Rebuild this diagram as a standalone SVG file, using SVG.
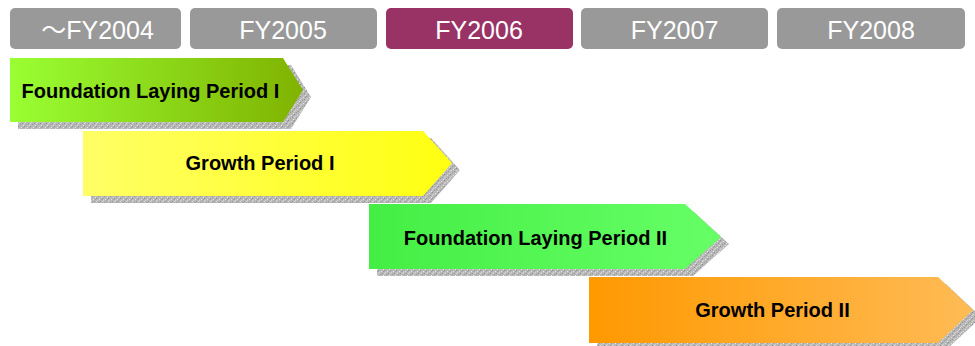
<svg xmlns="http://www.w3.org/2000/svg" width="975" height="346" viewBox="0 0 975 346">
<defs>
<style>
.hdr{fill:#999999}
.hdr-on{fill:#993366}
.ht{font-family:"Liberation Sans",Arial,"Noto Sans CJK JP",sans-serif;font-size:25px;fill:#ffffff;text-anchor:middle}
.lbl{font-family:"Liberation Sans",Arial,sans-serif;font-size:20px;font-weight:bold;fill:#000000;text-anchor:middle}
.shadow{fill:url(#speck)}
</style>
<pattern id="speck" width="6" height="6" patternUnits="userSpaceOnUse">
<rect width="6" height="6" fill="#b8b8b8"/>
<rect x="0" y="0" width="1" height="1" fill="#8a8a8a"/>
<rect x="3" y="1" width="1" height="1" fill="#e4e4e4"/>
<rect x="1" y="2" width="1" height="1" fill="#d4d4d4"/>
<rect x="4" y="3" width="1" height="1" fill="#909090"/>
<rect x="2" y="4" width="1" height="1" fill="#9a9a9a"/>
<rect x="5" y="5" width="1" height="1" fill="#e8e8e8"/>
<rect x="0" y="3" width="1" height="1" fill="#dcdcdc"/>
<rect x="5" y="1" width="1" height="1" fill="#a0a0a0"/>
</pattern>
<linearGradient id="g1" x1="0" y1="0" x2="1" y2="0"><stop offset="0" stop-color="#99ff33"/><stop offset="1" stop-color="#80b300"/></linearGradient>
<linearGradient id="g2" x1="0" y1="0" x2="1" y2="0"><stop offset="0" stop-color="#ffff66"/><stop offset="1" stop-color="#ffff11"/></linearGradient>
<linearGradient id="g3" x1="0" y1="0" x2="1" y2="0"><stop offset="0" stop-color="#44ee44"/><stop offset="1" stop-color="#66ff66"/></linearGradient>
<linearGradient id="g4" x1="0" y1="0" x2="1" y2="0"><stop offset="0" stop-color="#ff9900"/><stop offset="1" stop-color="#ffbb55"/></linearGradient>
</defs>
<rect width="975" height="346" fill="#ffffff"/>
<g id="headers">
<g id="h2004"><rect class="hdr" x="10" y="8" width="171" height="41" rx="5"/><text class="ht" x="97.5" y="39">～FY2004</text></g>
<g id="h2005"><rect class="hdr" x="190" y="8" width="187" height="41" rx="5"/><text class="ht" x="283" y="39">FY2005</text></g>
<g id="h2006"><rect class="hdr-on" x="386" y="8" width="187" height="41" rx="5"/><text class="ht" x="479" y="39">FY2006</text></g>
<g id="h2007"><rect class="hdr" x="581" y="8" width="187" height="41" rx="5"/><text class="ht" x="674.5" y="39">FY2007</text></g>
<g id="h2008"><rect class="hdr" x="777" y="8" width="188" height="41" rx="5"/><text class="ht" x="871" y="39">FY2008</text></g>
</g>
<g id="p1">
<polygon class="shadow" points="18,65 291,65 311,97 291,129 18,129"/>
<polygon fill="url(#g1)" points="10,58 283,58 303,90 283,122 10,122"/>
<text class="lbl" x="150.5" y="98">Foundation Laying Period I</text>
</g>
<g id="p2">
<polygon class="shadow" points="91,138 431,138 460,170 431,203 91,203"/>
<polygon fill="url(#g2)" points="83,131 423,131 452,163 423,196 83,196"/>
<text class="lbl" x="260" y="170">Growth Period I</text>
</g>
<g id="p3">
<polygon class="shadow" points="377,211 693,211 729,244 693,276 377,276"/>
<polygon fill="url(#g3)" points="369,204 685,204 721,237 685,269 369,269"/>
<text class="lbl" x="535.5" y="245">Foundation Laying Period II</text>
</g>
<g id="p4">
<polygon class="shadow" points="597,284 946,284 981,317 946,350 597,350"/>
<polygon fill="url(#g4)" points="589,277 938,277 973,310 938,343 589,343"/>
<text class="lbl" x="772.5" y="317">Growth Period II</text>
</g>
</svg>
